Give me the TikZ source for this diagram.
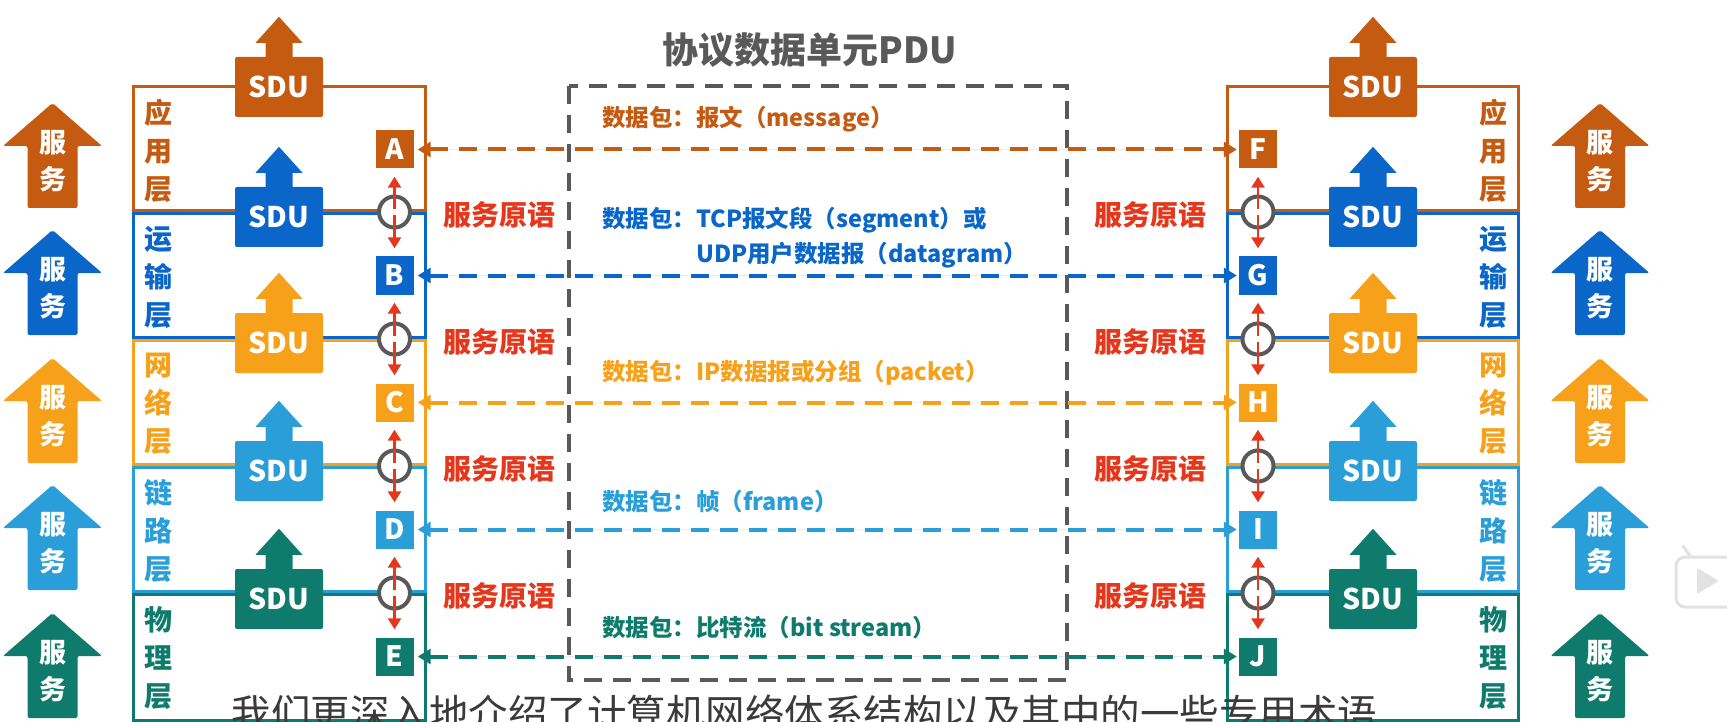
\documentclass[tikz,border=0pt]{standalone}
\usepackage{fontspec}
\setmainfont{Noto Sans CJK SC}
\usetikzlibrary{arrows.meta}
\definecolor{capp}{HTML}{C55A11}
\definecolor{ctra}{HTML}{0A66C8}
\definecolor{cnet}{HTML}{F7A11A}
\definecolor{clnk}{HTML}{2A9ED8}
\definecolor{cphy}{HTML}{0F7B6C}
\definecolor{cred}{HTML}{E5371B}
\definecolor{cgray}{HTML}{595959}
\definecolor{csub}{HTML}{3A3A3A}
\definecolor{cicon}{HTML}{E2E2E2}
\newcommand\svcarrow[3]{%
  \fill[#3, rounded corners=2pt] (#1,#2) -- (#1+49.5,#2+43) -- (#1+25,#2+43) -- (#1+25,#2+105)
    -- (#1-25,#2+105) -- (#1-25,#2+43) -- (#1-49.5,#2+43) -- cycle;}
\newcommand\sduhead[2]{% node name, color
  \fill[#2] ([yshift=40pt]#1.north) -- ([xshift=23.5pt,yshift=14pt]#1.north) -- ([xshift=13.5pt,yshift=14pt]#1.north)
    -- ([xshift=13.5pt,yshift=-1pt]#1.north) -- ([xshift=-13.5pt,yshift=-1pt]#1.north)
    -- ([xshift=-13.5pt,yshift=14pt]#1.north) -- ([xshift=-23.5pt,yshift=14pt]#1.north) -- cycle;}
\begin{document}
\begin{tikzpicture}[x=1pt,y=-1pt,
  lay/.style={line width=3pt},
  sdubox/.style={minimum width=88pt, minimum height=60pt, inner sep=0pt, rounded corners=2pt,
     text=white, font=\bfseries\fontsize{28.5}{30}\selectfont},
  lbox/.style={minimum size=38pt, inner sep=0pt, text=white, font=\bfseries\fontsize{28}{28}\selectfont},
  lab/.style={font=\bfseries\fontsize{28}{38}\selectfont, align=center, inner sep=0pt},
  svc/.style={text=white, font=\bfseries\fontsize{27}{37}\selectfont, align=center, inner sep=0pt},
  pdu/.style={line width=4pt, dash pattern=on 18pt off 11pt,
     {Triangle[length=13pt,width=15pt]}-{Triangle[length=13pt,width=15pt]}, shorten <=4pt, shorten >=2pt},
  prim/.style={text=cred, font=\bfseries\fontsize{28}{28}\selectfont, inner sep=0pt},
  dtxt/.style={font=\bfseries\fontsize{23.5}{35}\selectfont, anchor=west, align=left, inner sep=0pt},
  redarr/.style={draw=cred, line width=2.6pt, -{Triangle[length=11pt,width=13pt]}, shorten <=3pt, shorten >=8pt},
  ring/.style={circle, draw=cgray, line width=4pt, fill=white, minimum size=31pt, inner sep=0pt},
  ]
\useasboundingbox (0,0) rectangle (1727,722);
\clip (0,0) rectangle (1727,722);

% ---------- layer boxes ----------
\foreach \t/\b/\c in {87/210.5/capp, 213.5/337.5/ctra, 340.5/464.5/cnet, 467.5/591.5/clnk, 594.5/720/cphy}{
  \draw[lay, draw=\c] (133,\t) rectangle (425,\b);
  \draw[lay, draw=\c] (1227,\t) rectangle (1518,\b);
}

% ---------- service arrows ----------
\svcarrow{52.5}{103}{capp}
\svcarrow{52.5}{230}{ctra}
\svcarrow{52.5}{358}{cnet}
\svcarrow{52.5}{485}{clnk}
\svcarrow{52.5}{613}{cphy}
\svcarrow{1600}{103}{capp}
\svcarrow{1600}{230}{ctra}
\svcarrow{1600}{358}{cnet}
\svcarrow{1600}{485}{clnk}
\svcarrow{1600}{613}{cphy}
\node[svc] (sv1) at (52.5,161) {服\\务};
\node[svc] (sv2) at (52.5,288) {服\\务};
\node[svc] (sv3) at (52.5,416) {服\\务};
\node[svc] (sv4) at (52.5,543) {服\\务};
\node[svc] (sv5) at (52.5,671) {服\\务};
\node[svc] (sw1) at (1600,161) {服\\务};
\node[svc] (sw2) at (1600,288) {服\\务};
\node[svc] (sw3) at (1600,416) {服\\务};
\node[svc] (sw4) at (1600,543) {服\\务};
\node[svc] (sw5) at (1600,671) {服\\务};

% ---------- layer labels ----------
\node[lab, text=capp] (la1) at (158,151) {应\\用\\层};
\node[lab, text=ctra] (la2) at (158,277) {运\\输\\层};
\node[lab, text=cnet] (la3) at (158,404) {网\\络\\层};
\node[lab, text=clnk] (la4) at (158,531) {链\\路\\层};
\node[lab, text=cphy] (la5) at (158,658) {物\\理\\层};
\node[lab, text=capp] (ra1) at (1493,151) {应\\用\\层};
\node[lab, text=ctra] (ra2) at (1493,277) {运\\输\\层};
\node[lab, text=cnet] (ra3) at (1493,404) {网\\络\\层};
\node[lab, text=clnk] (ra4) at (1493,531) {链\\路\\层};
\node[lab, text=cphy] (ra5) at (1493,658) {物\\理\\层};

% ---------- SDU ----------
\node[sdubox, fill=capp] (sL1) at (279,87) {SDU};
\node[sdubox, fill=ctra] (sL2) at (279,217) {SDU};
\node[sdubox, fill=cnet] (sL3) at (279,343) {SDU};
\node[sdubox, fill=clnk] (sL4) at (279,471) {SDU};
\node[sdubox, fill=cphy] (sL5) at (279,599) {SDU};
\node[sdubox, fill=capp] (sR1) at (1373,87) {SDU};
\node[sdubox, fill=ctra] (sR2) at (1373,217) {SDU};
\node[sdubox, fill=cnet] (sR3) at (1373,343) {SDU};
\node[sdubox, fill=clnk] (sR4) at (1373,471) {SDU};
\node[sdubox, fill=cphy] (sR5) at (1373,599) {SDU};
\sduhead{sL1}{capp}\sduhead{sL2}{ctra}\sduhead{sL3}{cnet}\sduhead{sL4}{clnk}\sduhead{sL5}{cphy}
\sduhead{sR1}{capp}\sduhead{sR2}{ctra}\sduhead{sR3}{cnet}\sduhead{sR4}{clnk}\sduhead{sR5}{cphy}

% ---------- letter boxes ----------
\node[lbox, fill=capp] (A) at (394.5,149.5) {A};
\node[lbox, fill=ctra] (B) at (394.5,275.5) {B};
\node[lbox, fill=cnet] (C) at (394.5,402.5) {C};
\node[lbox, fill=clnk] (D) at (394.5,529.5) {D};
\node[lbox, fill=cphy] (E) at (394.5,656.5) {E};
\node[lbox, fill=capp] (F) at (1258,149.5) {F};
\node[lbox, fill=ctra] (G) at (1258,275.5) {G};
\node[lbox, fill=cnet] (H) at (1258,402.5) {H};
\node[lbox, fill=clnk] (I) at (1258,529.5) {I};
\node[lbox, fill=cphy] (J) at (1258,656.5) {J};

% ---------- rings and service primitive arrows ----------
\node[ring] (cL1) at (394.5,212) {};
\node[ring] (cL2) at (394.5,339) {};
\node[ring] (cL3) at (394.5,466) {};
\node[ring] (cL4) at (394.5,593) {};
\node[ring] (cR1) at (1258,212) {};
\node[ring] (cR2) at (1258,339) {};
\node[ring] (cR3) at (1258,466) {};
\node[ring] (cR4) at (1258,593) {};
\draw[redarr] (cL1.center) -- (A.south);
\draw[redarr] (cL1.center) -- (B.north);
\draw[redarr] (cL2.center) -- (B.south);
\draw[redarr] (cL2.center) -- (C.north);
\draw[redarr] (cL3.center) -- (C.south);
\draw[redarr] (cL3.center) -- (D.north);
\draw[redarr] (cL4.center) -- (D.south);
\draw[redarr] (cL4.center) -- (E.north);
\draw[redarr] (cR1.center) -- (F.south);
\draw[redarr] (cR1.center) -- (G.north);
\draw[redarr] (cR2.center) -- (G.south);
\draw[redarr] (cR2.center) -- (H.north);
\draw[redarr] (cR3.center) -- (H.south);
\draw[redarr] (cR3.center) -- (I.north);
\draw[redarr] (cR4.center) -- (I.south);
\draw[redarr] (cR4.center) -- (J.north);

% ---------- PDU box ----------
\node[text=cgray, font=\bfseries\fontsize{36}{36}\selectfont, inner sep=0pt] (title) at (810,50) {协议数据单元PDU};
\draw[cgray, line width=4.5pt, dash pattern=on 18pt off 11pt] (569,86) rectangle (1067,680);

% ---------- peer dashed arrows ----------
\draw[pdu, draw=capp, fill=capp] (A.east) -- (F.west);
\draw[pdu, draw=ctra, fill=ctra] (B.east) -- (G.west);
\draw[pdu, draw=cnet, fill=cnet] (C.east) -- (H.west);
\draw[pdu, draw=clnk, fill=clnk] (D.east) -- (I.west);
\draw[pdu, draw=cphy, fill=cphy] (E.east) -- (J.west);

% ---------- data texts ----------
\node[dtxt, text=capp] (d1) at (602,119) {数据包：报文（message）};
\node[dtxt, text=ctra] (d2) at (602,238) {数据包：TCP报文段（segment）或\\\phantom{数据包：}UDP用户数据报（datagram）};
\node[dtxt, text=cnet] (d3) at (602,373) {数据包：IP数据报或分组（packet）};
\node[dtxt, text=clnk] (d4) at (602,502) {数据包：帧（frame）};
\node[dtxt, text=cphy] (d5) at (602,628) {数据包：比特流（bit stream）};

% ---------- service primitives ----------
\node[prim] (p1) at (499,215) {服务原语};
\node[prim] (p2) at (499,342) {服务原语};
\node[prim] (p3) at (499,469) {服务原语};
\node[prim] (p4) at (499,596) {服务原语};
\node[prim] (q1) at (1150,215) {服务原语};
\node[prim] (q2) at (1150,342) {服务原语};
\node[prim] (q3) at (1150,469) {服务原语};
\node[prim] (q4) at (1150,596) {服务原语};

% ---------- watermark icon ----------
\draw[cicon, line width=3pt, fill=white, rounded corners=9pt] (1676,557) rectangle (1745,607);
\draw[cicon, line width=3pt, line cap=round] (1690,556) -- (1683,546);
\fill[cicon, rounded corners=2pt] (1697,568) -- (1719,581) -- (1697,594) -- cycle;

% ---------- subtitle ----------
\node[text=csub, font=\fontsize{39.5}{40}\selectfont, anchor=base, inner sep=0pt] (sub) at (804.5,728)
  {我们更深入地介绍了计算机网络体系结构以及其中的一些专用术语};
\end{tikzpicture}
\end{document}
